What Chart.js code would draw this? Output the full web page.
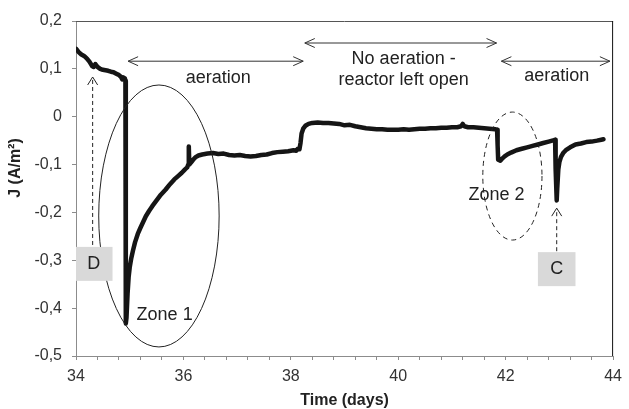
<!DOCTYPE html>
<html>
<head>
<meta charset="utf-8">
<script src="https://cdn.jsdelivr.net/npm/chart.js@4"></script>
<style>
  html, body { margin: 0; padding: 0; background: #ffffff; }
  #wrap { width: 629px; height: 409px; }
</style>
</head>
<body>
<div id="wrap"><canvas id="grafico" width="629" height="409"></canvas></div>
<script>
// Tempo (dias) e densidade de corrente J (A/m²)
var dias = [
	34.00, 34.05, 34.10, 34.15, 34.20, 34.25, 34.30, 34.33, 34.36, 34.40,
	34.45, 34.50, 34.55, 34.60, 34.65, 34.70, 34.75, 34.80, 34.84, 34.86,
	34.88, 34.91, 34.92, 34.925, 34.93, 34.94, 34.96, 34.98, 35.00, 35.03,
	35.06, 35.10, 35.15, 35.20, 35.25, 35.30, 35.36, 35.42, 35.50, 35.58,
	35.67, 35.75, 35.83, 35.90, 35.97, 36.03, 36.07, 36.09, 36.10, 36.11,
	36.14, 36.18, 36.22, 36.28, 36.35, 36.45, 36.55, 36.65, 36.75, 36.85,
	36.95, 37.05, 37.15, 37.25, 37.35, 37.45, 37.55, 37.65, 37.75, 37.85,
	37.95, 38.05, 38.10, 38.13, 38.16, 38.18, 38.20, 38.23, 38.27, 38.33,
	38.40, 38.50, 38.60, 38.70, 38.80, 38.90, 39.00, 39.10, 39.20, 39.30,
	39.40, 39.50, 39.60, 39.70, 39.80, 39.90, 40.00, 40.10, 40.20, 40.30,
	40.40, 40.50, 40.60, 40.70, 40.80, 40.90, 41.00, 41.10, 41.17, 41.20,
	41.23, 41.30, 41.40, 41.50, 41.60, 41.70, 41.80, 41.84, 41.85, 41.86,
	41.90, 41.94, 41.98, 42.03, 42.10, 42.20, 42.30, 42.40, 42.50, 42.60,
	42.70, 42.80, 42.90, 42.92, 42.93, 42.95, 42.96, 42.98, 43.00, 43.03,
	43.07, 43.12, 43.20, 43.30, 43.40, 43.50, 43.60, 43.70, 43.78, 43.82
];
var corrente = [
	0.142, 0.135, 0.130, 0.127, 0.122, 0.115, 0.106, 0.104, 0.110, 0.104,
	0.100, 0.098, 0.097, 0.096, 0.094, 0.093, 0.090, 0.087, 0.083, 0.078,
	0.082, 0.080, 0.075, -0.300, -0.432, -0.420, -0.370, -0.335, -0.315, -0.295,
	-0.280, -0.262, -0.245, -0.232, -0.220, -0.208, -0.197, -0.187, -0.175, -0.163,
	-0.152, -0.141, -0.131, -0.124, -0.117, -0.110, -0.106, -0.100, -0.062, -0.100,
	-0.096, -0.090, -0.085, -0.081, -0.079, -0.077, -0.076, -0.078, -0.077, -0.080,
	-0.081, -0.080, -0.082, -0.083, -0.082, -0.080, -0.079, -0.076, -0.074, -0.073,
	-0.072, -0.070, -0.071, -0.067, -0.068, -0.055, -0.035, -0.025, -0.019, -0.015,
	-0.013, -0.012, -0.013, -0.013, -0.014, -0.015, -0.018, -0.017, -0.020, -0.022,
	-0.024, -0.025, -0.026, -0.026, -0.027, -0.027, -0.027, -0.026, -0.027, -0.026,
	-0.025, -0.025, -0.024, -0.024, -0.023, -0.023, -0.022, -0.022, -0.020, -0.015,
	-0.020, -0.022, -0.022, -0.023, -0.024, -0.025, -0.026, -0.027, -0.060, -0.090,
	-0.092, -0.087, -0.083, -0.079, -0.075, -0.070, -0.067, -0.064, -0.061, -0.058,
	-0.055, -0.052, -0.049, -0.048, -0.110, -0.175, -0.150, -0.110, -0.095, -0.084,
	-0.076, -0.070, -0.064, -0.058, -0.056, -0.053, -0.052, -0.050, -0.048, -0.047
];
var ticksX = [34, 36, 38, 40, 42, 44];
var ticksY = [0.2, 0.1, 0, -0.1, -0.2, -0.3, -0.4, -0.5];

var pontos = [];
for (var i = 0; i < dias.length; i++) {
	pontos.push({ x: dias[i], y: corrente[i] });
}

var fonte = "'Liberation Sans', Arial, sans-serif";

function seta(ctx, x1, x2, y) {
	// seta dupla horizontal com pontas abertas
	ctx.beginPath();
	ctx.moveTo(x1, y); ctx.lineTo(x2, y);
	ctx.moveTo(x1 + 10, y - 4.5); ctx.lineTo(x1, y); ctx.lineTo(x1 + 10, y + 4.5);
	ctx.moveTo(x2 - 10, y - 4.5); ctx.lineTo(x2, y); ctx.lineTo(x2 - 10, y + 4.5);
	ctx.stroke();
}

function setaTracejada(ctx, x, yBase, yTopo) {
	ctx.save();
	ctx.setLineDash([4, 3]);
	ctx.beginPath();
	ctx.moveTo(x, yBase); ctx.lineTo(x, yTopo + 1);
	ctx.stroke();
	ctx.setLineDash([]);
	ctx.beginPath();
	ctx.moveTo(x - 5, yTopo + 8); ctx.lineTo(x, yTopo); ctx.lineTo(x + 5, yTopo + 8);
	ctx.stroke();
	ctx.restore();
}

var anotacoes = {
	id: "anotacoes",
	afterDraw: function (chart) {
		var ctx = chart.ctx;
		var sx = chart.scales.x, sy = chart.scales.y;
		var px = function (v) { return sx.getPixelForValue(v); };
		var py = function (v) { return sy.getPixelForValue(v); };
		var area = chart.chartArea;

		ctx.save();
		// moldura superior e direita
		ctx.lineWidth = 1;
		ctx.strokeStyle = "#555555";
		ctx.beginPath();
		ctx.moveTo(area.left, area.top + 0.5); ctx.lineTo(area.right, area.top + 0.5);
		ctx.stroke();
		ctx.strokeStyle = "#111111";
		ctx.beginPath();
		ctx.moveTo(area.right - 0.5, area.top); ctx.lineTo(area.right - 0.5, area.bottom);
		ctx.stroke();

		// setas duplas
		ctx.strokeStyle = "#333333";
		ctx.lineWidth = 1;
		seta(ctx, px(34.97), px(38.23), py(0.116));
		seta(ctx, px(38.26), px(41.83), py(0.154));
		seta(ctx, px(41.92), px(43.94), py(0.116));

		ctx.fillStyle = "#222222";
		ctx.font = "18px " + fonte;
		ctx.textAlign = "center";
		ctx.textBaseline = "middle";
		ctx.fillText("aeration", px(36.65), py(0.081));
		ctx.fillText("No aeration -", px(40.10), py(0.121));
		ctx.fillText("reactor left open", px(40.10), py(0.077));
		ctx.fillText("aeration", px(42.95), py(0.085));

		// Zona 1 (elipse contínua)
		ctx.strokeStyle = "#222222";
		ctx.beginPath();
		ctx.ellipse(px(35.544), py(-0.2074), px(35.544 + 1.121) - px(35.544), py(-0.2074) - py(-0.2074 + 0.2737), 0, 0, Math.PI * 2);
		ctx.stroke();
		ctx.fillText("Zone 1", px(35.65), py(-0.414));

		// Zona 2 (elipse tracejada)
		ctx.save();
		ctx.setLineDash([5, 4]);
		ctx.beginPath();
		ctx.ellipse(px(42.125), py(-0.124), px(42.125 + 0.551) - px(42.125), py(-0.124) - py(-0.124 + 0.1337), 0, 0, Math.PI * 2);
		ctx.stroke();
		ctx.restore();
		ctx.fillText("Zone 2", px(41.83), py(-0.164));

		// caixas D e C
		ctx.fillStyle = "#d9d9d9";
		ctx.fillRect(px(34), py(-0.272), px(34.68) - px(34), py(-0.343) - py(-0.272));
		ctx.fillRect(px(42.60), py(-0.283), px(43.30) - px(42.60), py(-0.354) - py(-0.283));
		ctx.fillStyle = "#222222";
		ctx.fillText("D", px(34.33), py(-0.308));
		ctx.fillText("C", px(42.95), py(-0.318));
		setaTracejada(ctx, px(34.31), py(-0.268), py(0.083));
		setaTracejada(ctx, px(42.95), py(-0.281), py(-0.191));

		// título do eixo y
		ctx.translate(16, 168);
		ctx.rotate(-Math.PI / 2);
		ctx.font = "bold 16px " + fonte;
		ctx.fillStyle = "#222222";
		ctx.fillText("J (A/m²)", 0, 0);
		ctx.restore();
	}
};

new Chart(document.getElementById("grafico"), {
	type: "line",
	data: {
		datasets: [
			{
				label: "J",
				data: pontos,
				borderColor: "#151515",
				borderWidth: 4.5,
				pointRadius: 0,
				tension: 0,
				borderJoinStyle: "round",
				borderCapStyle: "round",
				fill: false,
			},
		],
	},
	options: {
		responsive: false,
		animation: false,
		layout: { padding: { top: 21, right: 9, left: 0, bottom: 0 } },
		plugins: {
			legend: { display: false },
			tooltip: { enabled: false },
		},
		scales: {
			x: {
				type: "linear",
				min: 34,
				max: 44,
				afterFit: function (scale) { scale.height = 53; },
				afterBuildTicks: function (scale) {
					var t = [];
					for (var k = 0; k <= 25; k++) t.push({ value: 34 + k * 0.4 });
					scale.ticks = t;
				},
				grid: { drawOnChartArea: false, tickLength: 4, color: "#8c8c8c" },
				border: { color: "#8c8c8c", width: 1 },
				ticks: {
					autoSkip: false,
					maxRotation: 0,
					padding: 7,
					color: "#333333",
					font: { family: fonte, size: 16 },
					callback: function (v) {
						for (var k = 0; k < ticksX.length; k++) {
							if (Math.abs(v - ticksX[k]) < 1e-6) return String(ticksX[k]);
						}
						return "";
					},
				},
				title: {
					display: true,
					text: "Time (days)",
					color: "#222222",
					font: { family: fonte, size: 16, weight: "bold", lineHeight: 1.1 },
					padding: { top: 0, bottom: 0 },
				},
			},
			y: {
				min: -0.5,
				max: 0.2,
				afterFit: function (scale) { scale.width = 76; },
				afterBuildTicks: function (scale) {
					scale.ticks = ticksY.map(function (v) { return { value: v }; });
				},
				grid: { drawOnChartArea: false, tickLength: 4, color: "#8c8c8c" },
				border: { color: "#8c8c8c", width: 1 },
				ticks: {
					padding: 10,
					color: "#333333",
					font: { family: fonte, size: 16 },
					callback: function (v) {
						if (Math.abs(v) < 1e-9) return "0";
						return v.toFixed(1).replace(".", ",");
					},
				},
			},
		},
	},
	plugins: [anotacoes],
});
</script>
</body>
</html>
